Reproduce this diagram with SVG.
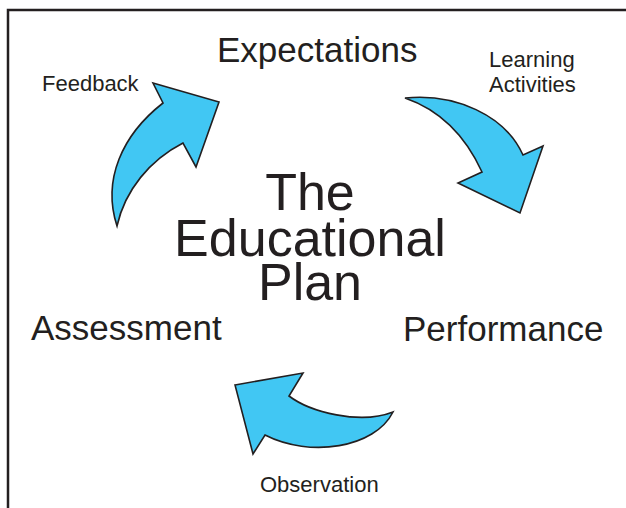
<svg xmlns="http://www.w3.org/2000/svg" width="626" height="508" viewBox="0 0 626 508">
<style>
.arrow{fill:#41C7F3;stroke:#231F20;stroke-width:1.6;stroke-linejoin:miter}
.big{font-family:"Liberation Sans",Arial,sans-serif;font-size:35px;fill:#231F20}
.small{font-family:"Liberation Sans",Arial,sans-serif;font-size:22px;fill:#231F20}
.title{font-family:"Liberation Sans",Arial,sans-serif;font-size:52px;fill:#231F20;text-anchor:middle}
</style>
<rect width="626" height="508" fill="#fff"/>
<path d="M8,508 V10 H626" fill="none" stroke="#231F20" stroke-width="2.5"/>
<g id="title"><text class="title"><tspan x="310" y="210">The</tspan><tspan x="310" y="256">Educational</tspan><tspan x="310" y="300">Plan</tspan></text></g>
<g id="expectations"><text class="big" x="217" y="62">Expectations</text></g>
<g id="performance"><text class="big" x="403" y="341">Performance</text></g>
<g id="assessment"><text class="big" x="31" y="340">Assessment</text></g>
<g id="connectors">
<g id="feedback-arrow"><path class="arrow" d="M117,226 C102,180 122,135 163,103 L153,83 L219,102 L196,167 L183,143 C150,160 125,190 117,226 Z"/><text class="small" x="42" y="91">Feedback</text></g>
<g id="learning-arrow"><path class="arrow" d="M405,98 C455,93 505,115 523,155 L543,146 L520,213 L458,183 L482,172 C465,135 440,110 405,98 Z"/><text class="small"><tspan x="489" y="67">Learning</tspan><tspan x="489" y="92">Activities</tspan></text></g>
<g id="observation-arrow"><path class="arrow" d="M235,385 L303,373 L289,396 C310,412 360,425 393,412 C375,448 310,458 265,435 L253,454 Z"/><text class="small" x="260" y="492">Observation</text></g>
</g>
</svg>
